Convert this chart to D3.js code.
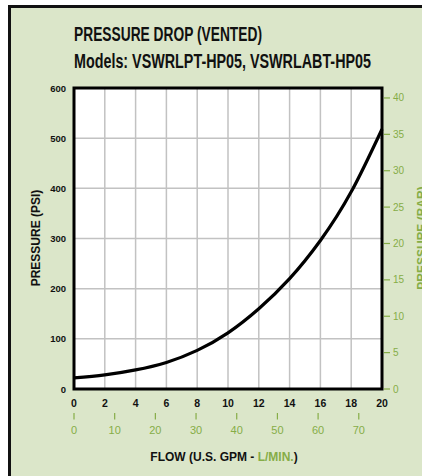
<!DOCTYPE html>
<html><head><meta charset="utf-8">
<script src="https://cdn.jsdelivr.net/npm/d3@7/dist/d3.min.js"></script>
<style>
html,body{margin:0;padding:0;background:#fff;}
svg{display:block;}
text{font-family:"Liberation Sans Narrow","Liberation Sans",Arial,sans-serif;}
</style></head>
<body>
<script>
// ---- data ----
const flowGPM = [0, 2, 4, 6, 8, 10, 12, 14, 16, 18, 20];
const pressurePSI = [22, 28, 38, 53, 77, 112, 160, 220, 296, 393, 518];
const gpmTicks = [0, 2, 4, 6, 8, 10, 12, 14, 16, 18, 20];
const lpmTicks = [0, 10, 20, 30, 40, 50, 60, 70];
const psiTicks = [0, 100, 200, 300, 400, 500, 600];
const barTicks = [0, 5, 10, 15, 20, 25, 30, 35, 40];
const titleText = "PRESSURE DROP (VENTED)";
const subtitleText = "Models: VSWRLPT-HP05, VSWRLABT-HP05";

const W = 422, H = 476;
const green = "#86ad47", bg = "#dbe6c9";
const m = {left: 74, right: 382, top: 88, bottom: 389};

const svg = d3.select("body").append("svg").attr("width", W).attr("height", H);

// background panel with border
svg.append("rect").attr("x", 9.5).attr("y", 6.5).attr("width", W + 20).attr("height", H + 20)
  .attr("fill", bg).attr("stroke", "#111").attr("stroke-width", 3);

const x = d3.scaleLinear().domain([0, 20]).range([m.left, m.right]);
const xL = d3.scaleLinear().domain([0, 20 * 3.78541]).range([m.left, m.right]);
const y = d3.scaleLinear().domain([0, 600]).range([m.bottom, m.top]);
const yB = d3.scaleLinear().domain([0, 600 / 14.5038]).range([m.bottom, m.top]);

// plot area
svg.append("rect").attr("x", m.left).attr("y", m.top).attr("width", m.right - m.left)
  .attr("height", m.bottom - m.top).attr("fill", "#fff");

// grid
const g = svg.append("g");
g.selectAll("line.v").data(gpmTicks.slice(1, -1)).join("line")
  .attr("x1", d => x(d)).attr("x2", d => x(d)).attr("y1", m.top).attr("y2", m.bottom)
  .attr("stroke", "#c2c2c2").attr("stroke-width", 1.5);
g.selectAll("line.h").data(psiTicks.slice(1, -1)).join("line")
  .attr("y1", d => y(d)).attr("y2", d => y(d)).attr("x1", m.left).attr("x2", m.right)
  .attr("stroke", "#c2c2c2").attr("stroke-width", 1.5);

// curve
const line = d3.line().x(d => x(d[0])).y(d => y(d[1])).curve(d3.curveNatural);
svg.append("path").datum(flowGPM.map((f, i) => [f, pressurePSI[i]]))
  .attr("d", line).attr("fill", "none").attr("stroke", "#000").attr("stroke-width", 3.2);

// frame
svg.append("rect").attr("x", m.left).attr("y", m.top).attr("width", m.right - m.left)
  .attr("height", m.bottom - m.top).attr("fill", "none").attr("stroke", "#000").attr("stroke-width", 3);

// left axis labels
svg.append("g").selectAll("text").data(psiTicks).join("text")
  .attr("x", m.left - 8).attr("y", d => y(d) + 3.5).attr("text-anchor", "end")
  .attr("font-size", 9.5).attr("font-weight", "bold").attr("fill", "#111").text(d => d);

// right axis (bar)
const rg = svg.append("g");
rg.selectAll("line").data(barTicks).join("line")
  .attr("x1", m.right + 2).attr("x2", m.right + 8).attr("y1", d => yB(d)).attr("y2", d => yB(d))
  .attr("stroke", green).attr("stroke-width", 1.2);
rg.selectAll("text").data(barTicks).join("text")
  .attr("x", m.right + 11).attr("y", d => yB(d) + 3.5)
  .attr("font-size", 10).attr("fill", green).text(d => d);

// bottom GPM labels
svg.append("g").selectAll("text").data(gpmTicks).join("text")
  .attr("x", d => x(d)).attr("y", 407).attr("text-anchor", "middle")
  .attr("font-size", 10.5).attr("font-weight", "bold").attr("fill", "#111").text(d => d);

// L/min ticks and labels
const lg = svg.append("g");
lg.selectAll("line").data(lpmTicks).join("line")
  .attr("x1", d => xL(d)).attr("x2", d => xL(d)).attr("y1", 413).attr("y2", 419.5)
  .attr("stroke", green).attr("stroke-width", 1.2);
lg.selectAll("text").data(lpmTicks).join("text")
  .attr("x", d => xL(d)).attr("y", 434).attr("text-anchor", "middle")
  .attr("font-size", 11).attr("fill", green).text(d => d);

// axis titles
svg.append("text").attr("transform", "translate(40,238) rotate(-90)")
  .attr("text-anchor", "middle").attr("font-size", 12).attr("font-weight", "bold")
  .style("font-family", "'Liberation Sans',Arial,sans-serif").attr("fill", "#111").text("PRESSURE (PSI)");
svg.append("text").attr("transform", "translate(426,238) rotate(-90)")
  .attr("text-anchor", "middle").attr("font-size", 12).attr("font-weight", "bold")
  .style("font-family", "'Liberation Sans',Arial,sans-serif").attr("fill", green).text("PRESSURE (BAR)");

const ft = svg.append("text").attr("x", 224).attr("y", 461).attr("text-anchor", "middle")
  .attr("font-size", 12).attr("font-weight", "bold")
  .style("font-family", "'Liberation Sans',Arial,sans-serif").attr("fill", "#111");
ft.append("tspan").text("FLOW (U.S. GPM - ");
ft.append("tspan").attr("fill", green).text("L/MIN.");
ft.append("tspan").text(")");

// titles
svg.append("text").attr("x", 74).attr("y", 40.5).attr("font-size", 19.5).attr("font-weight", "bold")
  .attr("fill", "#111").attr("textLength", 188).attr("lengthAdjust", "spacingAndGlyphs").text(titleText);
svg.append("text").attr("x", 74).attr("y", 67.5).attr("font-size", 19.5).attr("font-weight", "bold")
  .attr("fill", "#111").attr("textLength", 297).attr("lengthAdjust", "spacingAndGlyphs").text(subtitleText);
</script>
</body></html>
